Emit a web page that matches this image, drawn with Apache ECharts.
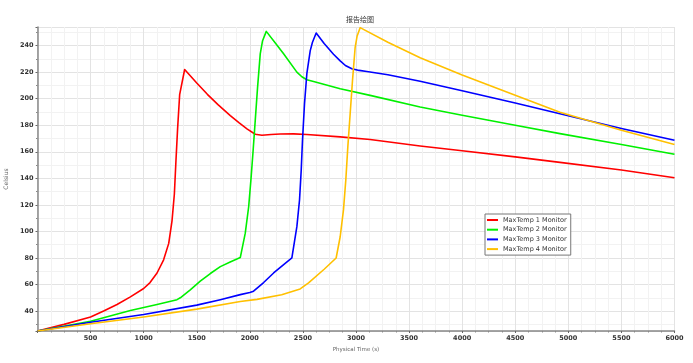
<!DOCTYPE html>
<html>
<head>
<meta charset="utf-8">
<script src="https://cdn.jsdelivr.net/npm/echarts@6/dist/echarts.min.js"></script>
<style>html,body{margin:0;padding:0;background:#fff;}#c{width:693px;height:363px;}</style>
</head>
<body>
<div id="c"></div>
<script>
var chartTitle = '报告绘图';
var xName = 'Physical Time (s)';
var yName = 'Celsius';
var seriesNames = ['MaxTemp 1 Monitor', 'MaxTemp 2 Monitor', 'MaxTemp 3 Monitor', 'MaxTemp 4 Monitor'];
var seriesColors = ['#ff0000', '#00f000', '#0000ff', '#ffc000'];

var time1 = [0,250,500,623,749,875,1000,1060,1126,1188,1236,1267,1289,1304,1320,1339,1386,1500,1600,1700,1816,1900,1973,2051,2114,2200,2286,2412,2537,2851,3133,3604,4000,4500,4921,5500,6000];
var temp1 = [25,30,35.5,40,45,50.7,57,61.5,68.7,78.6,91,108,128,153,178,203,222,211.8,203.3,195.5,187.3,181.8,177.3,173.2,172.5,173,173.4,173.5,173,171.2,169.2,164.4,160.8,156.2,152,146.3,140.5];

var time2 = [0,500,875,1126,1314,1345,1439,1533,1628,1722,1820,1910,1957,1989,2010,2029,2051,2073,2098,2120,2155,2240,2318,2443,2490,2537,2600,2851,3133,3604,4000,4500,4921,5500,6000];
var temp2 = [25,32.3,40.5,45,48.6,50,56,62.5,68.3,73.5,77.2,80.3,98.7,118.6,138.7,158.7,183.7,208.7,233.8,243.7,250.7,242,233.8,220,216.5,214.3,213,207.5,202.5,193.7,187.5,180,173.7,165.5,158.2];

var time3 = [0,500,1000,1500,1722,1910,2000,2035,2130,2224,2396,2443,2468,2484,2496,2515,2537,2569,2590,2625,2700,2788,2851,2900,2961,3030,3102,3300,3604,4000,4500,4921,5500,6000];
var temp3 = [25,31.6,37.4,44.5,48.6,52.4,54,55,61.5,68.7,80,103.6,123.7,146.2,168.7,196.2,218.8,236.2,242.5,249.5,241.5,233.5,228.5,225,222.6,221.3,220.5,218,213.2,206,196.7,188.7,177.5,168.7];

var time4 = [0,500,1000,1500,1910,2067,2300,2474,2553,2700,2813,2851,2882,2904,2923,2945,2967,2992,3010,3039,3300,3604,4000,4500,4921,5500,6000];
var temp4 = [25,30.4,35.6,41.5,47.2,48.8,52.3,56.7,61.2,71.5,80,96,116.2,138.7,163.7,188.7,213.7,238.7,247,253.5,242.5,230.8,217.8,202.5,189.8,176.3,165.5];

var times = [time1, time2, time3, time4];
var temps = [temp1, temp2, temp3, temp4];

var chart = echarts.init(document.getElementById('c'), null, {renderer: 'canvas'});
var series = seriesNames.map(function (n, k) {
  return {
    name: n,
    type: 'line',
    showSymbol: false,
    symbol: 'none',
    smooth: false,
    lineStyle: {color: seriesColors[k], width: 1.6, join: 'round'},
    itemStyle: {color: seriesColors[k]},
    data: times[k].map(function (x, i) { return [x, temps[k][i]]; })
  };
});

var labelStyle = {fontSize: 6.5, fontWeight: 'bold', color: '#333', fontFamily: 'DejaVu Sans'};

chart.setOption({
  animation: false,
  backgroundColor: '#ffffff',
  title: {
    text: chartTitle, left: 341, top: 11,
    textStyle: {fontSize: 7, fontWeight: 'normal', color: '#333', fontFamily: 'Noto Sans CJK SC'}
  },
  grid: {left: 37.5, right: 18.5, top: 27, bottom: 32, containLabel: false, outerBoundsMode: 'none'},
  legend: {
    orient: 'vertical', left: 485, top: 214,
    backgroundColor: '#fff', borderColor: '#777', borderWidth: 1,
    padding: [2, 4, 2, 2],
    itemWidth: 11, itemHeight: 2, itemGap: 1.7, icon: 'rect',
    textStyle: {fontSize: 6.5, color: '#333', fontFamily: 'DejaVu Sans', lineHeight: 8},
    data: seriesNames
  },
  xAxis: {
    type: 'value', min: 0, max: 6000, interval: 500,
    name: xName, nameLocation: 'middle', nameGap: 15,
    nameTextStyle: {fontSize: 5.5, color: '#666', fontFamily: 'DejaVu Sans'},
    axisLine: {show: true, lineStyle: {color: '#888', width: 1.5}},
    axisTick: {show: true, length: 2, lineStyle: {color: '#666'}},
    minorTick: {show: true, splitNumber: 4, length: 1.5, lineStyle: {color: '#888'}},
    axisLabel: Object.assign({showMinLabel: false, margin: 4, formatter: function (v) { return String(v); }}, labelStyle),
    splitLine: {show: true, lineStyle: {color: '#e3e3e3', width: 1}},
    minorSplitLine: {show: true, lineStyle: {color: '#f2f2f2', width: 1}}
  },
  yAxis: {
    type: 'value', min: 25, max: 254, splitNumber: 11,
    name: yName, nameLocation: 'middle', nameGap: 25, nameRotate: 90,
    nameTextStyle: {fontSize: 6, color: '#666', fontFamily: 'DejaVu Sans'},
    axisLine: {show: true, lineStyle: {color: '#888', width: 1.5}},
    axisTick: {show: true, length: 2, lineStyle: {color: '#666'}},
    minorTick: {show: true, splitNumber: 2, length: 1.5, lineStyle: {color: '#888'}},
    axisLabel: Object.assign({showMinLabel: false, showMaxLabel: false, margin: 4, formatter: function (v) { return String(v); }}, labelStyle),
    splitLine: {show: true, lineStyle: {color: '#e3e3e3', width: 1}},
    minorSplitLine: {show: true, lineStyle: {color: '#f2f2f2', width: 1}}
  },
  series: series
});
</script>
</body>
</html>
